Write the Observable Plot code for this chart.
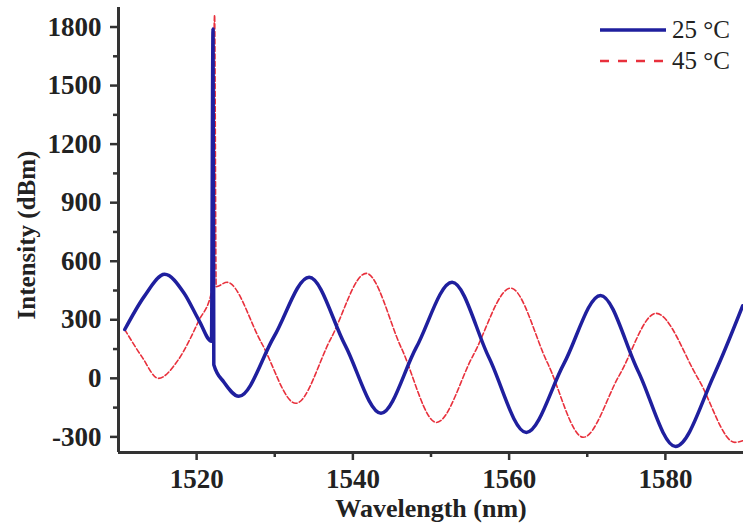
<!DOCTYPE html>
<html>
<head>
<meta charset="utf-8">
<script src="https://cdn.jsdelivr.net/npm/d3@7"></script>
<script src="https://cdn.jsdelivr.net/npm/@observablehq/plot@0.6"></script>
<style>
  html, body { margin: 0; padding: 0; background: #fff; }
  #wrap { position: relative; width: 743px; height: 531px; overflow: hidden; }
  #legend { position: absolute; left: 600px; top: 14px; font-family: "Liberation Serif", "Times New Roman", serif; font-size: 25px; color: #222; }
  .row { display: flex; align-items: center; height: 31px; }
  .row svg { width: 66px; height: 10px; margin-right: 6px; }
</style>
</head>
<body>
<div id="wrap">
  <div id="chart"></div>
  <div id="legend"></div>
</div>
<script>
// ---- data ----
const xDomain = [1510, 1590];
const yDomain = [-380, 1900];
const xTicks = [1520, 1540, 1560, 1580];
const xMinorTicks = [1530, 1550, 1570];
const yTicks = [-300, 0, 300, 600, 900, 1200, 1500, 1800];
const yMinorTicks = [-150, 150, 450, 750, 1050, 1350, 1650];

const seriesNames = ["25 \u00B0C", "45 \u00B0C"];

const wl25 = [1510.8, 1513.3, 1515.9, 1518.4, 1520.3, 1521.9, 1522.1, 1522.2, 1523.5, 1525.4,
              1529.9, 1534.4, 1539.0, 1543.6, 1548.1, 1552.7, 1557.4, 1562.2, 1567.0, 1571.7,
              1576.5, 1581.3, 1586.2, 1589.9];
const int25 = [250, 420, 533, 436, 297, 190, 1790, 70, -20, -92,
               213, 518, 170, -179, 157, 492, 108, -277, 74, 425,
               38, -349, 15, 372];

const wl45 = [1510.8, 1513.0, 1515.1, 1517.6, 1520.3, 1521.9, 1522.3, 1522.5, 1523.9, 1528.3,
              1532.7, 1537.2, 1541.7, 1546.2, 1550.7, 1555.4, 1560.2, 1564.9, 1569.5, 1574.1,
              1578.8, 1584.2, 1588.9, 1589.9];
const int45 = [250, 110, 0, 92, 297, 440, 1862, 470, 492, 182,
               -128, 205, 538, 156, -226, 118, 462, 80, -302, 15,
               333, -2, -328, -320];

const colors = ["#1f1f9e", "#e8303c"];

const d25 = wl25.map((x, i) => ({x, y: int25[i]}));
const d45 = wl45.map((x, i) => ({x, y: int45[i]}));

const font = '"Liberation Serif", "Times New Roman", serif';

const chart = Plot.plot({
  width: 743,
  height: 531,
  marginLeft: 118,
  marginRight: 0,
  marginTop: 7,
  marginBottom: 79,
  style: {fontFamily: font, fontSize: "27px", fontWeight: "bold", color: "#222", background: "#fff"},
  x: {domain: xDomain},
  y: {domain: yDomain},
  marks: [
    Plot.line(d45, {x: "x", y: "y", stroke: colors[1], strokeWidth: 1.6, strokeDasharray: "5,2.5", curve: "monotone-x"}),
    Plot.line(d25, {x: "x", y: "y", stroke: colors[0], strokeWidth: 3.5, curve: "monotone-x"}),
    Plot.axisX({ticks: xTicks, tickSize: 8, tickPadding: 8, tickFormat: d => String(d), stroke: "#333", strokeWidth: 2.5, label: null, fontSize: 27, fontWeight: "bold"}),
    Plot.axisX({ticks: xMinorTicks, tickSize: 5, tickFormat: () => "", stroke: "#333", strokeWidth: 2.5, label: null}),
    Plot.axisY({ticks: yTicks, tickSize: 8, tickPadding: 9, tickFormat: d => String(d), stroke: "#333", strokeWidth: 2.5, label: null, fontSize: 27, fontWeight: "bold"}),
    Plot.axisY({ticks: yMinorTicks, tickSize: 5, tickFormat: () => "", stroke: "#333", strokeWidth: 2.5, label: null}),
    Plot.ruleY([yDomain[0]], {stroke: "#333", strokeWidth: 3}),
    Plot.ruleX([xDomain[0]], {stroke: "#333", strokeWidth: 3}),
    Plot.text(["Wavelength (nm)"], {frameAnchor: "bottom", lineAnchor: "middle", textAnchor: "middle", dy: 56, text: d => d, fontSize: 26, fontWeight: "bold", fill: "#222", style: "letter-spacing:1.5px"}),
    Plot.text(["Intensity (dBm)"], {frameAnchor: "left", textAnchor: "middle", lineAnchor: "middle", dx: -92, dy: 5, rotate: -90, text: d => d, fontSize: 25, fontWeight: "bold", fill: "#222"})
  ]
});
document.getElementById("chart").appendChild(chart);

// legend
const legend = document.getElementById("legend");
seriesNames.forEach((name, i) => {
  const row = document.createElement("div");
  row.className = "row";
  const dash = i === 1 ? 'stroke-dasharray="9,9"' : '';
  const sw = i === 1 ? 2.5 : 3.5;
  row.innerHTML = `<svg viewBox="0 0 66 10"><line x1="0" y1="5" x2="66" y2="5" stroke="${colors[i]}" stroke-width="${sw}" ${dash}/></svg><span>${name}</span>`;
  legend.appendChild(row);
});
</script>
</body>
</html>
